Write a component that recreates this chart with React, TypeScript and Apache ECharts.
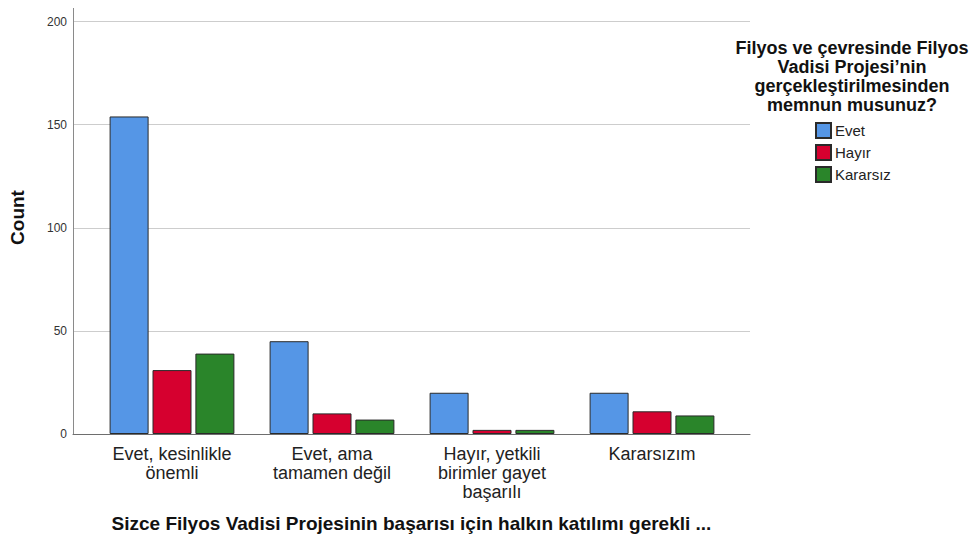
import React, { useEffect, useRef } from "react";
import * as echarts from "echarts";

const categories = [
  "Evet, kesinlikle\nönemli",
  "Evet, ama\ntamamen değil",
  "Hayır, yetkili\nbirimler gayet\nbaşarılı",
  "Kararsızım",
];
const seriesNames = ["Evet", "Hayır", "Kararsız"];
const evetValues = [154, 45, 20, 20];
const hayirValues = [31, 10, 2, 11];
const kararsizValues = [39, 7, 2, 9];
const seriesColors = ["#5596E6", "#D6002F", "#2A852A"];
const legendTitle =
  "Filyos ve çevresinde Filyos\nVadisi Projesi’nin\ngerçekleştirilmesinden\nmemnun musunuz?";
const xTitle = "Sizce Filyos Vadisi Projesinin başarısı için halkın katılımı gerekli ...";
const yTitle = "Count";

const FONT = "'Liberation Sans', Arial, sans-serif";

export default function App() {
  const ref = useRef<HTMLDivElement>(null);
  useEffect(() => {
    if (!ref.current) return;
    const chart = echarts.init(ref.current, undefined, { renderer: "svg" });
    const values = [evetValues, hayirValues, kararsizValues];
    chart.setOption({
      animation: false,
      backgroundColor: "#ffffff",
      textStyle: { fontFamily: FONT },
      title: {
        text: legendTitle,
        left: 852,
        top: 38,
        padding: 0,
        textAlign: "center",
        textStyle: {
          fontFamily: FONT,
          fontSize: 18,
          fontWeight: "bold",
          color: "#111",
          lineHeight: 19,
          align: "center",
        },
      },
      legend: {
        orient: "vertical",
        left: 815,
        top: 122,
        padding: 0,
        itemWidth: 15,
        itemHeight: 15,
        itemGap: 5,
        icon: "rect",
        data: seriesNames,
        textStyle: { fontFamily: FONT, fontSize: 15, color: "#222", padding: [0, 0, 0, -1] },
      },
      grid: [
        { left: 92, width: 640, top: 1, height: 433, containLabel: false },
        { left: 73, width: 677, top: 1, height: 433, containLabel: false },
      ],
      xAxis: [
        {
          type: "category",
          gridIndex: 0,
          data: categories,
          axisLine: { show: false },
          axisTick: { show: false },
          axisLabel: {
            fontFamily: FONT,
            fontSize: 18,
            lineHeight: 19,
            color: "#222",
            margin: 10,
            interval: 0,
          },
        },
        {
          type: "value",
          gridIndex: 1,
          min: 0,
          max: 1,
          axisLine: { show: true, lineStyle: { color: "#6e6e6e", width: 1 } },
          axisTick: { show: false },
          axisLabel: { show: false },
          splitLine: { show: false },
          name: xTitle,
          nameLocation: "middle",
          nameGap: 80,
          nameTextStyle: { fontFamily: FONT, fontSize: 19, fontWeight: "bold", color: "#111" },
        },
      ],
      yAxis: [
        {
          type: "value",
          gridIndex: 0,
          min: 0,
          max: 210,
          show: false,
          splitLine: { show: false },
        },
        {
          type: "value",
          gridIndex: 1,
          min: 0,
          max: 210,
          interval: 50,
          axisLine: { show: true, lineStyle: { color: "#8a8a8a", width: 1 } },
          axisTick: { show: false },
          axisLabel: {
            fontFamily: FONT,
            fontSize: 12,
            color: "#333",
            margin: 6,
            showMaxLabel: false,
          },
          splitLine: {
            show: true,
            showMaxLine: false,
            lineStyle: { color: "#cdcdcd", width: 1 },
          },
          name: yTitle,
          nameLocation: "middle",
          nameGap: 46,
          nameTextStyle: { fontFamily: FONT, fontSize: 19, fontWeight: "bold", color: "#111" },
        },
      ],
      series: seriesNames.map((name, i) => ({
        name,
        type: "bar",
        xAxisIndex: 0,
        yAxisIndex: 0,
        data: values[i],
        barWidth: 39,
        barGap: "10%",
        itemStyle: { color: seriesColors[i], borderColor: "#2a2a2a", borderWidth: 1 },
      })),
    });
    return () => chart.dispose();
  }, []);
  return <div ref={ref} style={{ width: 980, height: 546, margin: -8 }} />;
}
